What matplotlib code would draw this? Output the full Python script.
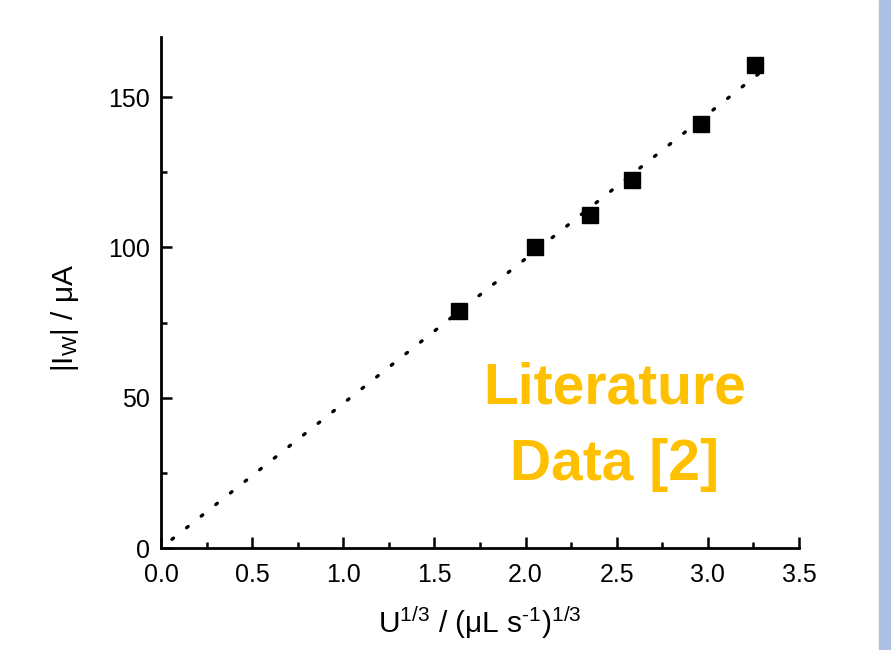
import numpy as np
import matplotlib
matplotlib.use('Agg')
import matplotlib.pyplot as plt
from matplotlib.patches import Rectangle

plt.rcParams['font.family'] = ['Liberation Sans', 'DejaVu Sans']
plt.rcParams['mathtext.fontset'] = 'custom'
plt.rcParams['mathtext.rm'] = 'Liberation Sans'
plt.rcParams['mathtext.it'] = 'Liberation Sans:italic'

# données
flow_cuberoot = [1.635, 2.05, 2.353, 2.584, 2.962, 3.258]
current = [78.7, 100.0, 110.7, 122.3, 141.0, 160.7]

x = np.array(flow_cuberoot)
y = np.array(current)
# droite passant par l'origine
slope = np.sum(x * y) / np.sum(x * x)
xfit = np.array([0.06, 3.31])

fig = plt.figure(figsize=(8.91, 6.5), dpi=100)
ax = fig.add_axes([0.1807, 0.1569, 0.716, 0.7862])

ax.plot(xfit, slope * xfit, color='black', linestyle=(0, (0.6, 5)), lw=2.4,
        dash_capstyle='round')
ax.plot(x, y, 's', color='black', ms=11)

ax.set_xlim(0, 3.5)
ax.set_ylim(0, 170)
ax.set_xticks(np.arange(0, 3.51, 0.5))
ax.set_xticks(np.arange(0.25, 3.5, 0.5), minor=True)
ax.set_yticks([0, 50, 100, 150])
ax.set_yticks([25, 75, 125], minor=True)
ax.set_xticklabels(['0.0', '0.5', '1.0', '1.5', '2.0', '2.5', '3.0', '3.5'])

for s in ['top', 'right']:
    ax.spines[s].set_visible(False)
for s in ['left', 'bottom']:
    ax.spines[s].set_linewidth(2)

ax.tick_params(which='major', direction='in', length=8, width=1.8,
               labelsize=18)
ax.tick_params(which='minor', direction='in', length=4.5, width=1.8)
ax.tick_params(axis='x', pad=11)
ax.tick_params(axis='y', pad=8)

ax.set_xlabel('U$^{1/3}$ / (μL s$^{\\text{-}1}$)$^{1/3}$', fontsize=21.5, labelpad=12)
ax.set_ylabel('|I$_\\mathrm{W}$| / μA', fontsize=21.5)
ax.yaxis.set_label_coords(-0.125, 0.45)

ax.text(2.49, 53, 'Literature', color='#FFC000', fontsize=41,
        fontweight='bold', ha='center', va='center')
ax.text(2.49, 27.5, 'Data [2]', color='#FFC000', fontsize=41,
        fontweight='bold', ha='center', va='center')

fig.patches.append(Rectangle((879 / 891, 0), 12 / 891, 1, transform=fig.transFigure,
                             color='#AEBFE6', zorder=0))

fig.savefig('out.png', dpi=100)
